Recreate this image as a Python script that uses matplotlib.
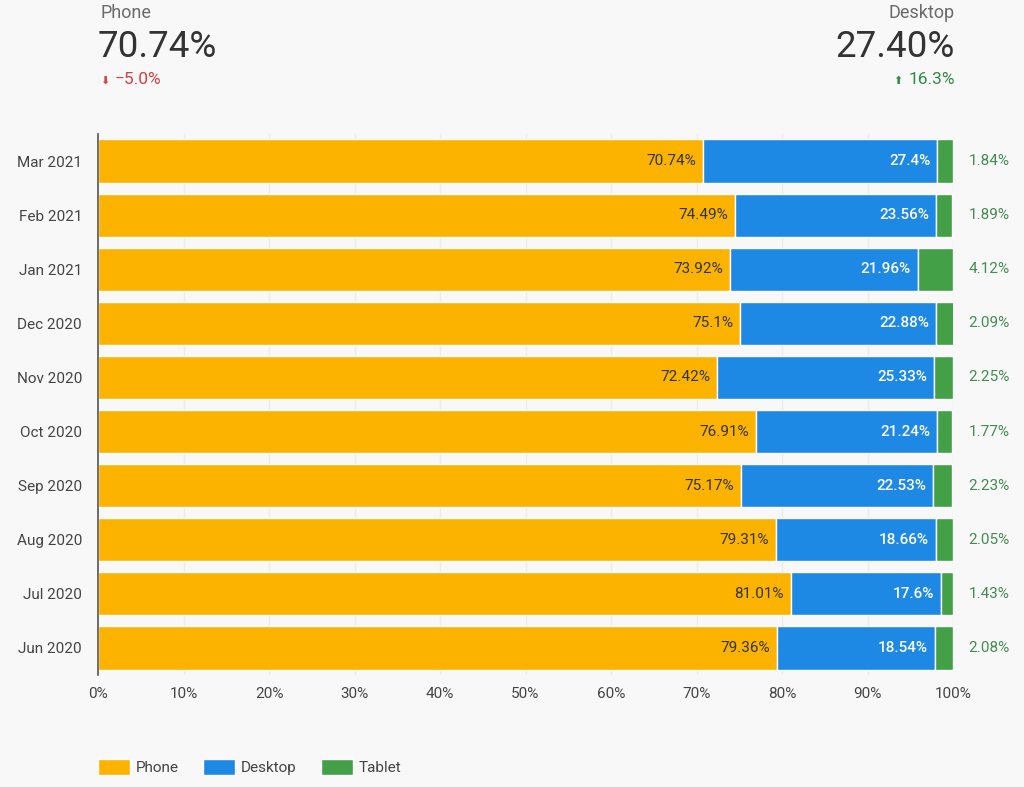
import matplotlib.pyplot as plt
import numpy as np

plt.rcParams['font.family'] = ['Roboto', 'DejaVu Sans']

## data (top to bottom)
months = ['Mar 2021', 'Feb 2021', 'Jan 2021', 'Dec 2020', 'Nov 2020',
          'Oct 2020', 'Sep 2020', 'Aug 2020', 'Jul 2020', 'Jun 2020']
phone = [70.74, 74.49, 73.92, 75.1, 72.42, 76.91, 75.17, 79.31, 81.01, 79.36]
desktop = [27.4, 23.56, 21.96, 22.88, 25.33, 21.24, 22.53, 18.66, 17.6, 18.54]
tablet = [1.84, 1.89, 4.12, 2.09, 2.25, 1.77, 2.23, 2.05, 1.43, 2.08]
ticks = [0, 10, 20, 30, 40, 50, 60, 70, 80, 90, 100]

phone_now = '70.74%'
phone_change = '\u22125.0%'
desktop_now = '27.40%'
desktop_change = '16.3%'

c_phone = '#FBB300'
c_desk = '#1E88E5'
c_tab = '#43A047'
bg = '#F8F8F8'
txt = '#444444'
fs = 11

fig = plt.figure(figsize=(10.24, 7.87), dpi=100, facecolor=bg)
ax = fig.add_axes([98/1024, 1 - 675/787, 855/1024, 541/787])
ax.set_facecolor(bg)

y = np.arange(len(months))
h = 0.8
left2 = np.array(phone) + np.array(desktop)
ax.barh(y, phone, height=h, color=c_phone, edgecolor='white', linewidth=1, label='Phone', zorder=3)
ax.barh(y, desktop, left=phone, height=h, color=c_desk, edgecolor='white', linewidth=1, label='Desktop', zorder=3)
ax.barh(y, tablet, left=left2, height=h, color=c_tab, edgecolor='white', linewidth=1, label='Tablet', zorder=3)

for i in range(len(months)):
    ax.annotate(f'{phone[i]:g}%', (phone[i], i), xytext=(-5, 0), textcoords='offset points',
                ha='right', va='center', fontsize=fs, color='#333333', zorder=4)
    ax.annotate(f'{desktop[i]:g}%', (left2[i], i), xytext=(-5, 0), textcoords='offset points',
                ha='right', va='center', fontsize=fs, color='white', fontweight='medium', zorder=4)
    ax.annotate(f'{tablet[i]:g}%', (100, i), xytext=(11, 0), textcoords='offset points',
                ha='left', va='center', fontsize=fs, color='#428C50', zorder=4)

ax.set_xlim(0, 100)
ax.set_ylim(len(months) - 0.5, -0.5)
ax.set_yticks(y)
ax.set_yticklabels(months)
ax.set_xticks(ticks)
ax.set_xticklabels([f'{t}%' for t in ticks])
ax.tick_params(axis='both', length=0, labelsize=fs, labelcolor=txt)
ax.tick_params(axis='x', pad=8.5)
ax.tick_params(axis='y', pad=11.5)
ax.grid(axis='x', color='#EBEBEB', linewidth=1, zorder=0)
for s in ['top', 'right', 'bottom']:
    ax.spines[s].set_visible(False)
ax.spines['left'].set_color('#555555')
ax.spines['left'].set_linewidth(1.2)
ax.spines['left'].set_zorder(5)

## header scorecards
fig.text(100/1024, 1 - 13/787, 'Phone', fontsize=13, color='#6A6A6A', ha='left', va='center')
fig.text(98/1024, 1 - 47/787, phone_now, fontsize=26.5, color='#333333', ha='left', va='center')
fig.text(100/1024, 1 - 81/787, '⬇', fontsize=8, color='#D44040', ha='left', va='center', family='DejaVu Sans')
fig.text(115/1024, 1 - 80/787, phone_change, fontsize=12.5, color='#D44040', ha='left', va='center')

fig.text(955/1024, 1 - 13/787, 'Desktop', fontsize=13, color='#6A6A6A', ha='right', va='center')
fig.text(955/1024, 1 - 47/787, desktop_now, fontsize=26.5, color='#333333', ha='right', va='center')
fig.text(955/1024, 1 - 80/787, desktop_change, fontsize=12.5, color='#2E8B45', ha='right', va='center')
fig.text(893/1024, 1 - 81/787, '⬆', fontsize=8, color='#2E8B45', ha='left', va='center', family='DejaVu Sans')

## legend
leg = fig.legend(loc='center left', bbox_to_anchor=(98/1024, 1 - 767/787), ncol=3,
                 frameon=False, fontsize=fs, handlelength=2.1, handleheight=1.3,
                 columnspacing=1.55, handletextpad=0.4, borderpad=0, borderaxespad=0)
for t in leg.get_texts():
    t.set_color(txt)

plt.savefig('out.png', dpi=100, facecolor=bg)
